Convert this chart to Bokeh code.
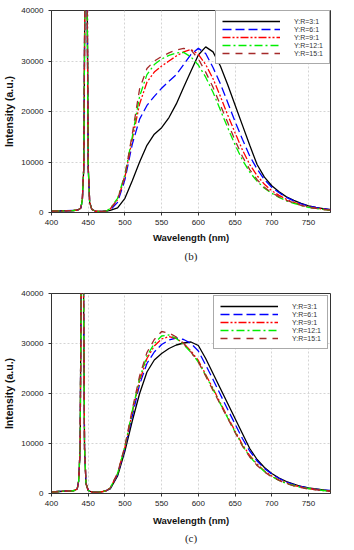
from bokeh.plotting import figure
from bokeh.models import Range1d, FixedTicker, BasicTickFormatter, Title, Legend, LegendItem
from bokeh.layouts import column
from bokeh.embed import file_html
from bokeh.resources import INLINE

# ---------------- data ----------------
labels = ["Y:R=3:1", "Y:R=6:1", "Y:R=9:1", "Y:R=12:1", "Y:R=15:1"]
x_ticks = [400, 450, 500, 550, 600, 650, 700, 750]
y_ticks = [0, 10000, 20000, 30000, 40000]

emis_wl = [480, 490, 500, 510, 520, 530, 540, 550, 560, 570, 580, 590, 600, 610, 620,
           630, 640, 650, 660, 670, 680, 690, 700, 710, 720, 730, 740, 750, 760, 770, 780]

# panel (b)
laser_wl_b = [400, 410, 420, 430, 436, 440, 442, 444, 445.5, 447, 448.5, 450, 452, 455,
              460, 465, 470, 475]
laser_b = [250, 300, 350, 400, 500, 900, 2500, 9000, 45000, 60000, 45000, 9000, 2000, 600,
           250, 200, 200, 300]
wl_b = laser_wl_b + emis_wl
b_3_1 = laser_b + [400, 900, 2800, 6300, 10000, 13300, 15500, 16800, 18800, 21500, 24800, 28000,
                   31200, 32800, 31800, 29000, 25300, 21300, 17300, 13300, 9500, 7000, 5300, 4100,
                   3100, 2400, 1800, 1300, 1000, 750, 550]
b_6_1 = laser_b + [500, 2000, 6500, 13500, 18500, 21200, 23000, 24600, 26000, 27300, 29300, 31300,
                   32500, 31500, 28700, 25500, 21800, 18000, 14500, 11200, 8600, 6500, 5000, 3900,
                   3000, 2300, 1700, 1300, 1000, 750, 550]
b_9_1 = laser_b + [700, 2500, 7000, 14500, 21500, 25800, 27800, 29000, 30000, 31000, 31800, 32300,
                   31300, 29300, 26500, 23000, 19300, 15800, 12400, 9500, 7300, 5600, 4300, 3400,
                   2600, 2000, 1500, 1100, 850, 650, 450]
b_12_1 = laser_b + [800, 2800, 7500, 15000, 23000, 27300, 29300, 30400, 31100, 31600, 31700, 30800,
                    29200, 26800, 23800, 20300, 16800, 13400, 10400, 8000, 6200, 4800, 3800, 3000,
                    2300, 1800, 1400, 1000, 800, 600, 400]
b_15_1 = laser_b + [700, 2600, 7300, 15500, 24500, 28500, 30000, 30900, 31600, 32200, 32500, 32200,
                    30400, 27800, 24800, 21300, 17800, 14300, 11100, 8500, 6500, 5000, 3900, 3100,
                    2400, 1900, 1400, 1000, 800, 600, 450]

# panel (c)
laser_wl_c = [400, 410, 420, 428, 431, 435, 437, 439, 440.5, 442, 443.5, 445, 447, 450,
              455, 460, 465, 470, 475]
laser_c = [300, 400, 500, 500, 600, 900, 2500, 9000, 45000, 60000, 45000, 9000, 2000, 600,
           300, 250, 300, 400, 600]
wl_c = laser_wl_c + emis_wl
c_3_1 = laser_c + [900, 3500, 8500, 14500, 20000, 24300, 26700, 28000, 29000, 29700, 30100, 30300,
                   29600, 27000, 24000, 21000, 18000, 15000, 12000, 9000, 6800, 5200, 4000, 3100,
                   2400, 1900, 1400, 1100, 900, 700, 500]
c_6_1 = laser_c + [1000, 3800, 9000, 15500, 21800, 26000, 28300, 29800, 30700, 31100, 30800, 30000,
                   28500, 25700, 22800, 19800, 16800, 13900, 11000, 8500, 6500, 5000, 3900, 3000,
                   2300, 1800, 1400, 1100, 850, 700, 600]
c_9_1 = laser_c + [1100, 4000, 9300, 16200, 22500, 27000, 29500, 30900, 31400, 31000, 30000, 28500,
                   26600, 23800, 21000, 18100, 15300, 12500, 9800, 7600, 5900, 4500, 3500, 2700,
                   2100, 1600, 1300, 1000, 800, 600, 500]
c_12_1 = laser_c + [1100, 4000, 9400, 16500, 23000, 27500, 30000, 31500, 31700, 31000, 29800, 28200,
                    26300, 23600, 20800, 17900, 15100, 12300, 9600, 7400, 5700, 4400, 3400, 2600,
                    2000, 1600, 1200, 1000, 800, 600, 500]
c_15_1 = laser_c + [1100, 4100, 9500, 16800, 23500, 28200, 30800, 32400, 32100, 31300, 30000, 28300,
                    26300, 23500, 20600, 17800, 15000, 12200, 9500, 7300, 5600, 4300, 3300, 2600,
                    2000, 1500, 1200, 900, 750, 600, 500]

colors = ["#000000", "#0000ff", "#ff0000", "#00ee00", "#a52a2a"]
dashes = ["solid", "9 4", "8 2 2 2 2 2", "8 3 2 3", "7 6"]


def make_panel(wl, series, tag, height, top, bottom, leg_margin, xlab_standoff, title_standoff):
    p = figure(width=338, height=height, x_range=Range1d(400, 780), y_range=Range1d(0, 40000),
               output_backend="svg", toolbar_location=None,
               min_border_left=50, min_border_right=8, min_border_top=top,
               min_border_bottom=bottom)
    p.outline_line_color = "#333333"
    p.outline_line_width = 1
    p.background_fill_color = "white"
    p.border_fill_color = "white"

    items = []
    for s, lab, col, d in zip(series, labels, colors, dashes):
        r = p.line(wl, s, line_color=col, line_width=1.3, line_dash=d)
        items.append(LegendItem(label=lab, renderers=[r]))

    leg = Legend(items=items, location="top_right", margin=leg_margin,
                 label_text_font="Liberation Sans", label_text_font_size="7px",
                 label_text_color="#333333",
                 glyph_width=58, glyph_height=8, label_height=8, label_standoff=14,
                 spacing=0, padding=6, border_line_color="#555555", border_line_width=1,
                 background_fill_alpha=1.0)
    p.add_layout(leg)

    p.xaxis.ticker = FixedTicker(ticks=x_ticks)
    p.yaxis.ticker = FixedTicker(ticks=y_ticks)
    p.yaxis.formatter = BasicTickFormatter(use_scientific=False)
    p.xaxis.axis_label = "Wavelength (nm)"
    p.yaxis.axis_label = "Intensity (a.u.)"
    p.axis.axis_label_text_font = "Liberation Sans"
    p.axis.axis_label_text_font_style = "bold"
    p.xaxis.axis_label_text_font_size = "9.5px"
    p.yaxis.axis_label_text_font_size = "10.5px"
    p.axis.axis_label_text_color = "#111111"
    p.axis.major_label_text_font = "Liberation Sans"
    p.axis.major_label_text_font_size = "8px"
    p.axis.major_label_text_color = "#222222"
    p.xaxis.major_label_standoff = 4
    p.yaxis.major_label_standoff = 5
    p.xaxis.axis_label_standoff = xlab_standoff
    p.yaxis.axis_label_standoff = 3
    p.axis.major_tick_in = 0
    p.axis.major_tick_out = 3
    p.axis.minor_tick_line_color = None
    p.axis.axis_line_color = "#333333"
    p.axis.major_tick_line_color = "#333333"

    p.grid.grid_line_color = "#d4d4d4"
    p.grid.grid_line_dash = "2 2"
    p.grid.grid_line_width = 1

    t = Title(text=tag, align="center", text_font="Liberation Serif",
              text_font_size="11px", text_font_style="normal", text_color="#222222",
              standoff=title_standoff)
    p.add_layout(t, "below")
    return p


pb = make_panel(wl_b, [b_3_1, b_6_1, b_9_1, b_12_1, b_15_1], "(b)", 264, 10, 52, 0, 4, 4)
pc = make_panel(wl_c, [c_3_1, c_6_1, c_9_1, c_12_1, c_15_1], "(c)", 281, 29, 52, 2, 6, 3)

layout = column(pb, pc, spacing=0)
open("out.html", "w").write(file_html(layout, INLINE))
